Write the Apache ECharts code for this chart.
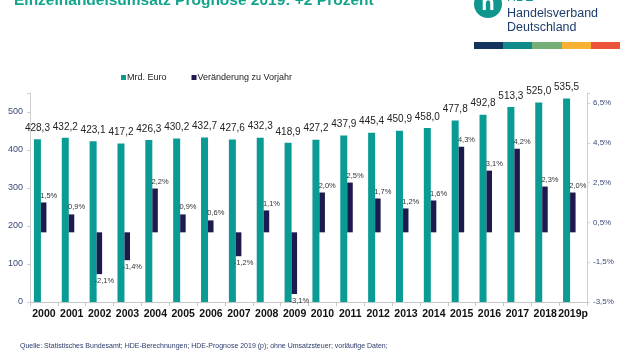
<!DOCTYPE html>
<html><head><meta charset="utf-8">
<script src="https://cdn.jsdelivr.net/npm/echarts@6/dist/echarts.min.js"></script>
<style>html,body{margin:0;padding:0;background:#fff}#c{width:620px;height:350px}</style>
</head><body><div id="c"></div>
<script>
const years = ['2000','2001','2002','2003','2004','2005','2006','2007','2008','2009','2010','2011','2012','2013','2014','2015','2016','2017','2018','2019p'];
const umsatz = [428.3,432.2,423.1,417.2,426.3,430.2,432.7,427.6,432.3,418.9,427.2,437.9,445.4,450.9,458.0,477.8,492.8,513.3,525.0,535.5];
const veraenderung = [1.5,0.9,-2.1,-1.4,2.2,0.9,0.6,-1.2,1.1,-3.1,2.0,2.5,1.7,1.2,1.6,4.3,3.1,4.2,2.3,2.0];
const leftTicks = [0,100,200,300,400,500];
const rightTicks = [-3.5,-1.5,0.5,2.5,4.5,6.5];
const titleText = 'Einzelhandelsumsatz Prognose 2019: +2 Prozent';
const sourceText = 'Quelle: Statistisches Bundesamt; HDE-Berechnungen; HDE-Prognose 2019 (p); ohne Umsatzsteuer; vorläufige Daten;';

const TEAL = '#0a9b94', NAVY = '#1c1a4e';
const fmt = v => v.toFixed(1).replace('.', ',');
const chart = echarts.init(document.getElementById('c'), null, {renderer:'canvas'});
const FONT = '"Liberation Sans", Arial, sans-serif';
chart.setOption({
  animation: false,
  textStyle: {fontFamily: FONT},
  grid: {left: 30, right: 33, top: 93, bottom: 48, containLabel: false},
  legend: {
    data: ['Mrd. Euro', 'Veränderung zu Vorjahr'],
    left: 116, top: 68, itemWidth: 5, itemHeight: 5, itemGap: 25,
    icon: 'rect',
    textStyle: {fontSize: 9, color: '#222', padding: [0,0,0,-4]}
  },
  xAxis: [{
    type: 'category', data: years,
    axisLine: {lineStyle: {color: '#c8c8c8'}},
    axisTick: {show: true, length: 4, lineStyle: {color: '#c8c8c8'}},
    axisLabel: {fontSize: 10.5, fontWeight: 'bold', color: '#111', margin: 7, interval: 0}
  }],
  yAxis: [{
    type: 'value', min: 0, max: 550, interval: 100, position: 'left',
    splitLine: {show: false},
    axisLine: {show: true, lineStyle: {color: '#d0d0d0'}},
    axisTick: {show: true, length: 3, lineStyle: {color: '#d0d0d0'}},
    axisLabel: {fontSize: 9, color: '#3a4a78', margin: 7,
      formatter: v => leftTicks.indexOf(v) >= 0 ? String(v) : ''}
  },{
    type: 'value', min: -3.5, max: 7.0, interval: 2, position: 'right',
    splitLine: {show: false},
    axisLine: {show: true, lineStyle: {color: '#d0d0d0'}},
    axisTick: {show: true, length: 3, lineStyle: {color: '#d0d0d0'}},
    axisLabel: {fontSize: 8, color: '#3a4a78', margin: 6,
      formatter: v => rightTicks.some(t => Math.abs(t - v) < 1e-6) ? fmt(v) + '%' : ''}
  }],
  series: [{
    name: 'Mrd. Euro', type: 'bar', data: umsatz, xAxisIndex: 0, yAxisIndex: 0,
    barWidth: 7, barGap: '0%',
    itemStyle: {color: TEAL},
    label: {show: true, position: 'top', distance: 6, fontSize: 10, color: '#222',
      formatter: p => fmt(p.value)}
  },{
    name: 'Veränderung zu Vorjahr', type: 'bar', xAxisIndex: 0, yAxisIndex: 1,
    data: veraenderung.map(v => ({value: v, label: {position: v >= 0 ? 'top' : 'bottom'}})),
    barWidth: 5.5, barGap: '0%',
    itemStyle: {color: NAVY},
    label: {show: true, distance: 3, offset: [5, 0], fontSize: 7.5, color: '#333',
      formatter: p => fmt(p.value) + '%'}
  },{
    name: '_spacer', type: 'bar', xAxisIndex: 0, yAxisIndex: 0,
    data: years.map(() => '-'), barWidth: 7.5, barGap: '0%',
    itemStyle: {color: 'transparent'}, silent: true
  }],
  graphic: [
    {type: 'text', left: 14, top: -7, style: {text: titleText, font: 'bold 15.5px ' + FONT, fill: '#13a58c'}},
    {type: 'circle', shape: {cx: 488, cy: 4, r: 14}, style: {fill: '#0f968f'}},
    {type: 'text', x: 488, y: 4, style: {text: 'h', font: 'bold 22px ' + FONT, fill: '#fff', align: 'center', verticalAlign: 'middle'}},
    {type: 'text', x: 507, y: -2, style: {text: 'HDE', font: '12.5px ' + FONT, fill: '#0f968f', verticalAlign: 'middle'}},
    {type: 'text', x: 507, y: 14, style: {text: 'Handelsverband', font: '12.5px ' + FONT, fill: '#1d3c6c', verticalAlign: 'middle'}},
    {type: 'text', x: 507, y: 28, style: {text: 'Deutschland', font: '12.5px ' + FONT, fill: '#1d3c6c', verticalAlign: 'middle'}},
    {type: 'rect', shape: {x: 474, y: 42, width: 29, height: 7}, style: {fill: '#12355e'}},
    {type: 'rect', shape: {x: 503, y: 42, width: 29, height: 7}, style: {fill: '#108a8a'}},
    {type: 'rect', shape: {x: 532, y: 42, width: 30, height: 7}, style: {fill: '#77ae78'}},
    {type: 'rect', shape: {x: 562, y: 42, width: 29, height: 7}, style: {fill: '#f8b133'}},
    {type: 'rect', shape: {x: 591, y: 42, width: 29, height: 7}, style: {fill: '#ec543a'}},
    {type: 'text', x: 20, y: 346, style: {text: sourceText, font: '7px ' + FONT, fill: '#2a3a6a', verticalAlign: 'middle'}}
  ]
});
</script></body></html>
